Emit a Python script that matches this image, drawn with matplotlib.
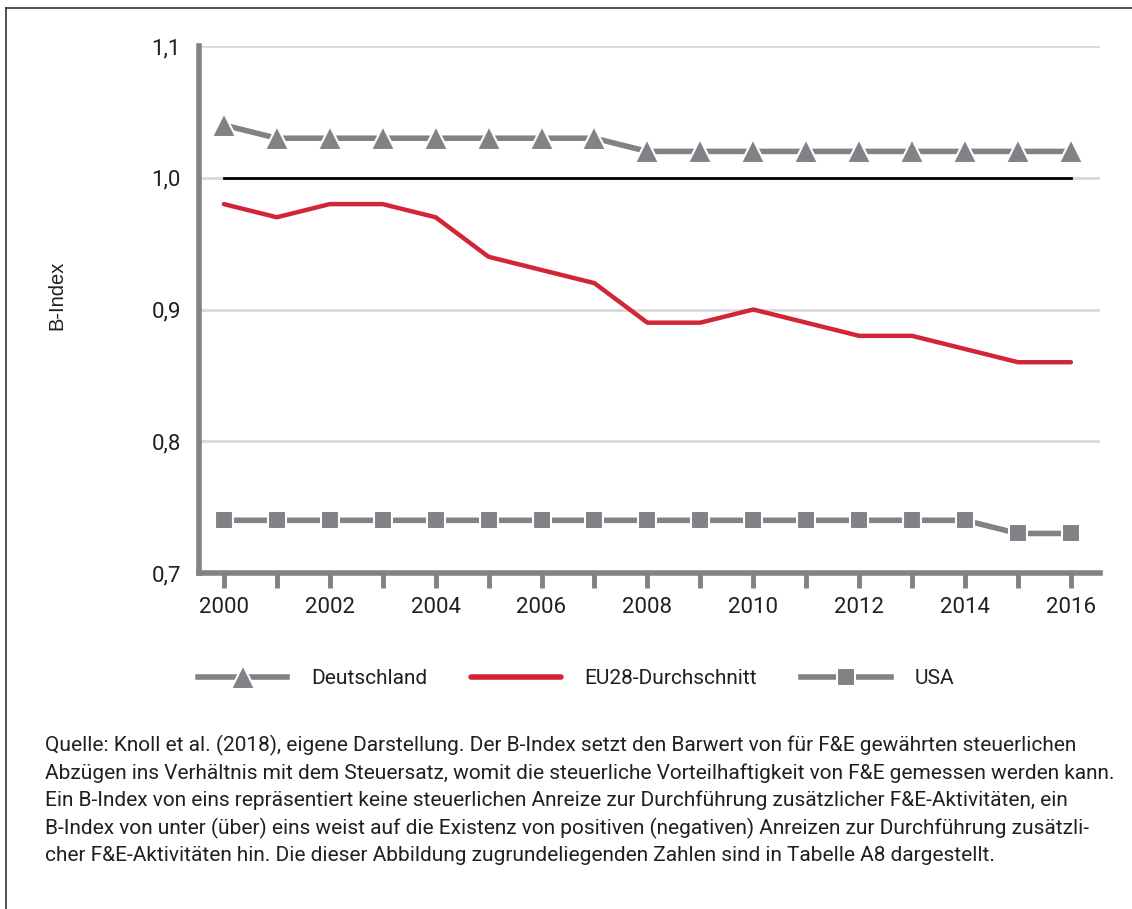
import matplotlib
matplotlib.use("Agg")
from matplotlib import pyplot as plt
from matplotlib.lines import Line2D

# data
years = list(range(2000, 2017))
deutschland = [1.04, 1.03, 1.03, 1.03, 1.03, 1.03, 1.03, 1.03,
               1.02, 1.02, 1.02, 1.02, 1.02, 1.02, 1.02, 1.02, 1.02]
eu28 = [0.98, 0.97, 0.98, 0.98, 0.97, 0.94, 0.93, 0.92,
        0.89, 0.89, 0.90, 0.89, 0.88, 0.88, 0.87, 0.86, 0.86]
usa = [0.74, 0.74, 0.74, 0.74, 0.74, 0.74, 0.74, 0.74,
       0.74, 0.74, 0.74, 0.74, 0.74, 0.74, 0.74, 0.73, 0.73]
reference_level = 1.0
y_ticks = [0.7, 0.8, 0.9, 1.0, 1.1]
y_tick_labels = ["0,7", "0,8", "0,9", "1,0", "1,1"]
x_ticks = list(range(2000, 2017, 2))
labels = ["Deutschland", "EU28-Durchschnitt", "USA"]

caption = ("Quelle: Knoll et al. (2018), eigene Darstellung. Der B-Index setzt den Barwert von für F&E gewährten steuerlichen\n"
           "Abzügen ins Verhältnis mit dem Steuersatz, womit die steuerliche Vorteilhaftigkeit von F&E gemessen werden kann.\n"
           "Ein B-Index von eins repräsentiert keine steuerlichen Anreize zur Durchführung zusätzlicher F&E-Aktivitäten, ein\n"
           "B-Index von unter (über) eins weist auf die Existenz von positiven (negativen) Anreizen zur Durchführung zusätzli-\n"
           "cher F&E-Aktivitäten hin. Die dieser Abbildung zugrundeliegenden Zahlen sind in Tabelle A8 dargestellt.")

GRAY = "#808285"
RED = "#d22536"
GRID = "#d9d9d9"
TXT = "#231f20"

W, H = 1132, 909
fig = plt.figure(figsize=(W / 100, H / 100), dpi=100)
plt.rcParams['font.family'] = ['Roboto', 'DejaVu Sans']

# outer frame (top and left only)
fig.add_artist(Line2D([6 / W, 1.0], [1 - 8 / H] * 2, color="#333333", linewidth=1.2))
fig.add_artist(Line2D([6 / W] * 2, [0, 1 - 8 / H], color="#333333", linewidth=1.2))

ax = fig.add_axes([199 / W, 1 - 573 / H, (1100 - 199) / W, (573 - 46) / H])
ax.set_xlim(1999.53, 2016.55)
ax.set_ylim(0.7, 1.1)

for yv in y_ticks:
    ax.axhline(yv, color=GRID, linewidth=2, zorder=0)

ax.plot([years[0], years[-1]], [reference_level] * 2, color="black", linewidth=2, zorder=2)

ax.plot(years, deutschland, color=GRAY, linewidth=4, marker="^", markersize=17,
        markeredgecolor="white", markeredgewidth=1.5, zorder=3)
ax.plot(years, eu28, color=RED, linewidth=3.2, solid_joinstyle="round",
        solid_capstyle="round", zorder=3)
ax.plot(years, usa, color=GRAY, linewidth=4, marker="s", markersize=13,
        markeredgecolor="white", markeredgewidth=1.5, zorder=3)

for side in ["top", "right"]:
    ax.spines[side].set_visible(False)
for side in ["left", "bottom"]:
    ax.spines[side].set_color(GRAY)
    ax.spines[side].set_linewidth(4)

ax.set_yticks(y_ticks)
ax.set_yticklabels(y_tick_labels, fontsize=16, color=TXT)
ax.tick_params(axis="y", length=0, pad=13)
ax.set_xticks(years)
ax.set_xticklabels([str(y) if y in x_ticks else "" for y in years], fontsize=16, color=TXT)
ax.tick_params(axis="x", length=11, width=3.5, color=GRAY, direction="out", pad=6)

fig.text(57 / W, 1 - 295 / H, "B-Index", rotation=90, ha="center", va="center",
         fontsize=14.5, color=TXT, family=["Liberation Sans", "DejaVu Sans"])

# legend
handles = [
    Line2D([0], [0], color=GRAY, linewidth=4, marker="^", markersize=17,
           markeredgecolor="white", markeredgewidth=1.5),
    Line2D([0], [0], color=RED, linewidth=4, solid_capstyle="round"),
    Line2D([0], [0], color=GRAY, linewidth=4, marker="s", markersize=13,
           markeredgecolor="white", markeredgewidth=1.5),
]
leg = fig.legend(handles, labels, loc="center", bbox_to_anchor=(576 / W, 1 - 679 / H),
                 ncol=3, frameon=False, handlelength=4.3,
                 columnspacing=2.1, handletextpad=1.15,
                 prop={"family": ["Roboto", "DejaVu Sans"], "size": 15})
for t in leg.get_texts():
    t.set_color(TXT)

fig.text(45 / W, 1 - 735 / H, caption, ha="left", va="top", fontsize=15.0,
         color=TXT, linespacing=1.47,
         family=["Roboto", "DejaVu Sans"])

fig.savefig("out.png", dpi=100, facecolor="white")
